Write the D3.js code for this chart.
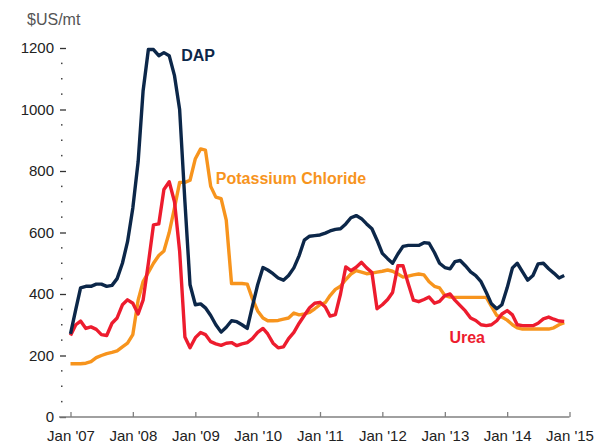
<!DOCTYPE html>
<html style="width:100%; height:100%">
    <head>
        <meta charset="utf-8">
        <script src="https://d3js.org/d3.v7.min.js"></script>
        <style>
            body { margin: 0; background: #fff; }
            text { font-family: "Liberation Sans", Arial, sans-serif; }
        </style>
    </head>

    <body>
        <svg id="chart" width="597" height="444"></svg>
        <script id="chartScript">
            // monthly prices, Jan 2007 .. Dec 2014 ($US/mt)
            var dap = [
                270, 350, 420, 425, 425, 432, 432, 425, 428, 450, 500, 570,
                680, 830, 1060, 1195, 1195, 1175, 1185, 1175, 1110, 1000, 700, 430,
                365, 368, 355, 330, 300, 276, 292, 313, 310, 300, 288, 360,
                430, 486, 478, 466, 452, 445, 460, 485, 525, 575, 588, 590,
                592, 598, 605, 610, 612, 628, 648, 655, 645, 628, 612, 575,
                532, 515, 500, 530, 555, 558, 558, 558, 567, 565, 535, 500,
                486, 482, 505, 509, 492, 472, 460, 440, 405, 368, 352, 365,
                420, 485, 500, 472, 445, 460, 498, 500, 482, 468, 452, 460
            ];
            var potash = [
                173, 173, 173, 175, 180, 193, 200, 206, 210, 215, 228, 240,
                268, 380, 440, 470, 500, 525, 540, 600, 680, 763, 763, 770,
                840, 872, 868, 750, 715, 710, 640, 434, 434, 434, 432, 385,
                345, 322, 313, 313, 314, 318, 322, 338, 332, 335, 340, 352,
                365, 372, 395, 415, 425, 447, 465, 476, 471, 466, 468, 471,
                474, 478, 474, 465, 455, 458, 462, 465, 462, 440, 425, 420,
                395, 390, 389, 389, 389, 389, 389, 389, 389, 360, 330, 325,
                315, 300, 290, 286, 286, 286, 286, 286, 286, 290, 300, 307
            ];
            var urea = [
                265, 300, 312, 288, 293, 285, 268, 265, 305, 322, 365, 381,
                370, 335, 380, 500, 625, 628, 740, 765, 700, 540, 260, 225,
                258, 275, 268, 245, 238, 233, 240, 242, 232, 238, 242, 255,
                275, 288, 270, 240, 225, 228, 255, 275, 305, 330, 355, 370,
                373, 358, 328, 333, 400, 488, 476, 487, 503, 485, 470, 352,
                365, 382, 405, 492, 492, 433, 380, 375, 382, 390, 370, 376,
                395, 400, 380, 362, 345, 322, 314, 300, 297, 300, 313, 335,
                346, 332, 300, 297, 297, 297, 305, 319, 325, 318, 312, 311
            ];
            var yTicks = [0, 200, 400, 600, 800, 1000, 1200];
            var xTickLabels = ["Jan '07", "Jan '08", "Jan '09", "Jan '10", "Jan '11",
                               "Jan '12", "Jan '13", "Jan '14", "Jan '15"];
            var yUnit = "$US/mt";

            var months = d3.timeMonth.range(new Date(2007, 0, 1), new Date(2015, 0, 1));
            var years = d3.timeYear.range(new Date(2007, 0, 1), new Date(2015, 0, 2));

            var svg = d3.select("#chart");
            var x = d3.scaleTime()
                .domain([new Date(2007, 0, 1), new Date(2015, 0, 1)])
                .range([70.5, 569.5]);
            var y = d3.scaleLinear().domain([0, 1200]).range([417, 48]);

            // minor y ticks (dots every 50)
            svg.append("g").selectAll("rect")
                .data(d3.range(50, 1200, 50).filter(function (v) { return v % 200 != 0; }))
                .join("rect")
                .attr("x", 61)
                .attr("y", function (v) { return y(v) - 0.75; })
                .attr("width", 1.5).attr("height", 1.5)
                .attr("fill", "#444");

            // y axis
            var yAxis = svg.append("g")
                .attr("transform", "translate(66,0)")
                .call(d3.axisLeft(y).tickValues(yTicks).tickSize(6).tickPadding(6).tickFormat(d3.format("d")));
            yAxis.select(".domain").remove();
            yAxis.selectAll(".tick line").attr("stroke", "#333").attr("stroke-width", 1.3);
            yAxis.selectAll("text").attr("font-size", 15).attr("fill", "#222")
                .style("font-family", "'Liberation Sans', Arial, sans-serif");

            // x axis
            var xAxis = svg.append("g")
                .attr("transform", "translate(0," + y(0) + ")")
                .call(d3.axisBottom(x).tickValues(years).tickSize(-5).tickSizeOuter(0)
                    .tickFormat(function (d, i) { return xTickLabels[i]; }));
            xAxis.select(".domain").attr("d", "M59,0H" + x(years[years.length - 1]))
                .attr("stroke", "#808080").attr("stroke-width", 1.6);
            xAxis.selectAll(".tick line").attr("stroke", "#808080").attr("stroke-width", 1.3);
            xAxis.selectAll("text").attr("font-size", 15).attr("fill", "#222")
                .attr("y", 13)
                .style("font-family", "'Liberation Sans', Arial, sans-serif");

            svg.append("text")
                .attr("x", 27).attr("y", 25)
                .attr("font-size", 16).attr("fill", "#555")
                .text(yUnit);

            // series
            var series = [
                { name: "Potassium Chloride", values: potash, color: "#f7941d",
                  at: [new Date(2009, 4, 1), 777] },
                { name: "Urea", values: urea, color: "#ed1c2e",
                  at: [new Date(2013, 0, 28), 260] },
                { name: "DAP", values: dap, color: "#0c2749",
                  at: [new Date(2008, 9, 10), 1177] }
            ];
            var line = d3.line()
                .x(function (d, i) { return x(months[i]); })
                .y(function (d) { return y(d); });

            svg.append("g").selectAll("path")
                .data(series)
                .join("path")
                .attr("d", function (s) { return line(s.values); })
                .attr("fill", "none")
                .attr("stroke", function (s) { return s.color; })
                .attr("stroke-width", 3.4)
                .attr("stroke-linejoin", "round");

            svg.append("g").selectAll("text")
                .data(series)
                .join("text")
                .attr("x", function (s) { return x(s.at[0]); })
                .attr("y", function (s) { return y(s.at[1]); })
                .attr("dy", "0.35em")
                .attr("font-size", 16)
                .attr("font-weight", "bold")
                .attr("fill", function (s) { return s.color; })
                .text(function (s) { return s.name; });
        </script>
    </body>
</html>
